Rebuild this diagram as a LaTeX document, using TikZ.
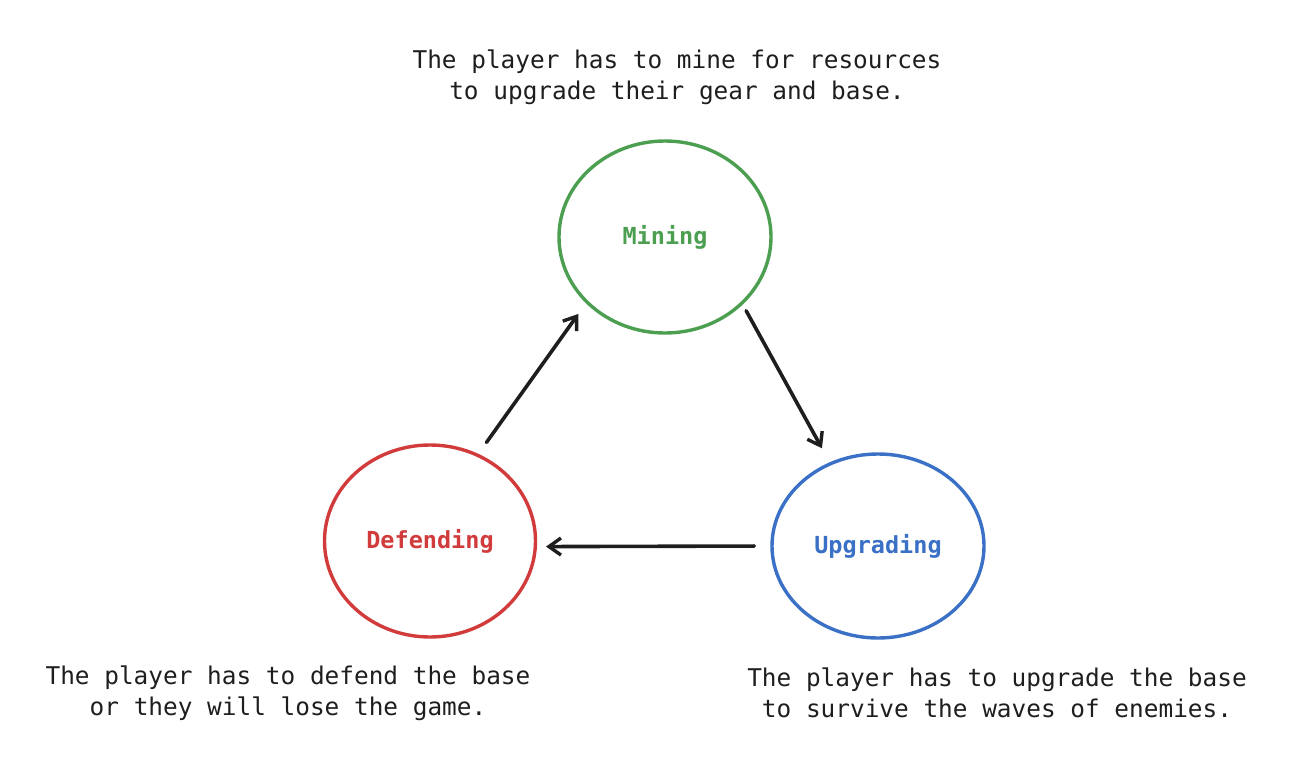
\documentclass[tikz,border=0pt]{standalone}
\usepackage{fontspec}
\setmonofont{DejaVu Sans Mono}
\usetikzlibrary{shapes.geometric,arrows.meta}
\definecolor{cgreen}{HTML}{4C9F50}
\definecolor{cred}{HTML}{D13B3B}
\definecolor{cblue}{HTML}{3A70C6}
\definecolor{ink}{HTML}{1E1E1E}
\tikzset{
  loopnode/.style={ellipse, draw, line width=3.4pt, inner sep=0pt,
    font=\ttfamily\bfseries\fontsize{23.5}{28}\selectfont},
  note/.style={align=center, text=ink, font=\ttfamily\fontsize{24.4}{31}\selectfont},
  flow/.style={draw=ink, line width=3.6pt, line cap=round,
    -{Straight Barb[length=12pt,width=17pt,line width=3.4pt]}}
}
\begin{document}
\begin{tikzpicture}[x=1pt,y=-1pt]
\useasboundingbox (0,0) rectangle (1310,774);
\node[loopnode, draw=cgreen, text=cgreen, minimum width=212pt, minimum height=192pt] (min) at (665,237) {Mining};
\node[loopnode, draw=cred, text=cred, minimum width=211pt, minimum height=192pt] (def) at (430,541) {Defending};
\node[loopnode, draw=cblue, text=cblue, minimum width=212pt, minimum height=184pt] (upg) at (878,546) {Upgrading};
\node[note] (tmin) at (677,77) {The player has to mine for resources\\to upgrade their gear and base.};
\node[note] (tdef) at (288,693) {The player has to defend the base\\or they will lose the game.};
\node[note] (tupg) at (997,693) {The player has to upgrade the base\\to survive the waves of enemies.};
\draw[flow, shorten <=14pt, shorten >=13pt] (def.61) -- (min.220);
\draw[flow, shorten <=7pt, shorten >=16pt] (min.319) -- (upg.120);
\draw[flow, shorten <=16pt, shorten >=9pt] (upg.180) -- (def.357);
\end{tikzpicture}
\end{document}
